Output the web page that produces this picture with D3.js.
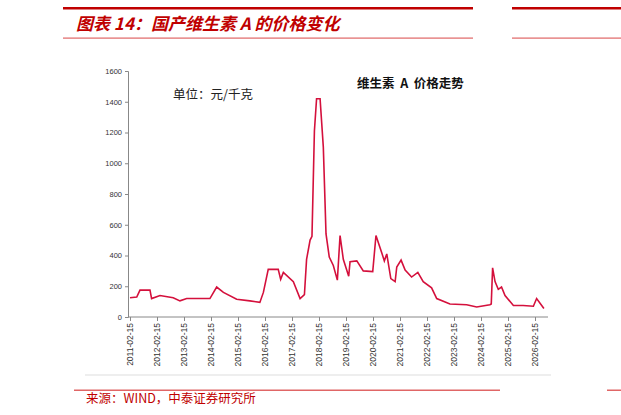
<!DOCTYPE html>
<html><head><meta charset="utf-8">
<script src="https://cdn.jsdelivr.net/npm/d3@7"></script>
<style>body{margin:0;background:#fff}</style>
</head><body>
<script>
// decimal years and prices (yuan/kg)
var years = [2011.12,2011.37,2011.49,2011.86,2011.92,2012.23,2012.72,2012.97,2013.22,2014.08,2014.33,2014.58,2015.07,2015.56,2015.93,2016.06,2016.24,2016.61,2016.70,2016.80,2017.17,2017.42,2017.58,2017.66,2017.79,2017.86,2017.95,2018.03,2018.16,2018.28,2018.38,2018.50,2018.65,2018.80,2018.90,2019.02,2019.22,2019.27,2019.52,2019.76,2020.11,2020.23,2020.44,2020.54,2020.63,2020.78,2020.94,2021.00,2021.16,2021.31,2021.55,2021.78,2021.98,2022.29,2022.48,2022.97,2023.59,2023.96,2024.45,2024.50,2024.55,2024.64,2024.76,2024.88,2025.01,2025.32,2025.68,2026.06,2026.18,2026.45];
var prices = [125,130,175,175,120,140,125,105,120,120,195,160,115,105,95,160,310,310,245,290,230,120,145,375,500,525,1210,1420,1420,1105,540,390,335,240,530,375,265,360,365,300,295,530,420,365,410,250,230,325,370,305,260,290,230,190,120,85,80,65,80,85,320,230,180,195,140,75,75,70,120,55];
var tickLabels = ["2011-02-15","2012-02-15","2013-02-15","2014-02-15","2015-02-15","2016-02-15","2017-02-15","2018-02-15","2019-02-15","2020-02-15","2021-02-15","2022-02-15","2023-02-15","2024-02-15","2025-02-15","2026-02-15"];
var yTicks = [0,200,400,600,800,1000,1200,1400,1600];

var red = "#c00000", lineRed = "#d4103c";
var svg = d3.select("body").append("svg").attr("width",621).attr("height",415)
  .style("font-family","'Noto Sans CJK SC', sans-serif");

// header
svg.append("rect").attr("x",63).attr("y",7).attr("width",410).attr("height",2.5).attr("fill",red);
svg.append("rect").attr("x",512).attr("y",7).attr("width",109).attr("height",2.5).attr("fill",red);
svg.append("rect").attr("x",63).attr("y",37.5).attr("width",410).attr("height",1.2).attr("fill","#e06666");
svg.append("rect").attr("x",512).attr("y",37.5).attr("width",109).attr("height",1.2).attr("fill","#e06666");
svg.append("text").attr("x",76).attr("y",30).attr("fill",red).attr("font-size",17)
  .attr("font-weight","bold").attr("font-style","italic").attr("xml:space","preserve")
  .text("图表 14：国产维生素 A 的价格变化");

// footer
svg.append("line").attr("x1",85).attr("x2",551).attr("y1",375).attr("y2",375).attr("stroke","#ddd");
svg.append("rect").attr("x",74).attr("y",389.5).attr("width",426).attr("height",1.5).attr("fill","#e06666");
svg.append("rect").attr("x",607).attr("y",389.5).attr("width",14).attr("height",1.5).attr("fill","#e06666");
svg.append("text").attr("x",86).attr("y",403).attr("fill",red).attr("font-size",12.5)
  .text("来源：WIND，中泰证券研究所");

var x0 = 130, x1 = 535;
var x = d3.scaleLinear().domain([2011.12,2026.12]).range([x0,x1]);
var y = d3.scaleLinear().domain([0,1600]).range([317,71]);

var yAxis = d3.axisLeft(y).tickValues(yTicks).tickFormat(d3.format("d")).tickSize(3).tickPadding(3);
var gy = svg.append("g").attr("transform","translate(128,0)").call(yAxis);
gy.select(".domain").attr("stroke","#888");
gy.selectAll(".tick line").attr("stroke","#888");
gy.selectAll("text").attr("font-size",7.5).attr("font-family","Arial, 'Liberation Sans'").attr("fill","#333");

var xAxis = d3.axisBottom(x).tickValues(d3.range(16).map(function(i){return 2011.12+i;}))
  .tickFormat(function(d,i){return tickLabels[i];}).tickSize(4).tickSizeOuter(0);
var gx = svg.append("g").attr("transform","translate(0,317)").call(xAxis);
gx.select(".domain").attr("d","M128,0H548").attr("stroke","#888");
gx.selectAll(".tick line").attr("stroke","#888");
gx.selectAll("text").attr("font-size",8.5).attr("font-family","Arial, 'Liberation Sans'").attr("fill","#333")
  .style("text-anchor","end").attr("transform","rotate(-90)").attr("x",-6).attr("y",0).attr("dy","0.32em");

var line = d3.line().x(function(d){return x(d[0]);}).y(function(d){return y(d[1]);});
svg.append("path").datum(years.map(function(v,i){return [v,prices[i]];}))
  .attr("d",line).attr("fill","none").attr("stroke",lineRed).attr("stroke-width",1.6);

svg.append("text").attr("x",173).attr("y",99).attr("font-size",12.5).attr("fill","#222")
  .attr("font-family","'Noto Sans CJK SC'").text("单位：元/千克");
svg.append("text").attr("x",357).attr("y",88).attr("font-size",12.5).attr("font-weight","bold").attr("fill","#111")
  .attr("xml:space","preserve").text("维生素  A  价格走势");
</script>
</body></html>
